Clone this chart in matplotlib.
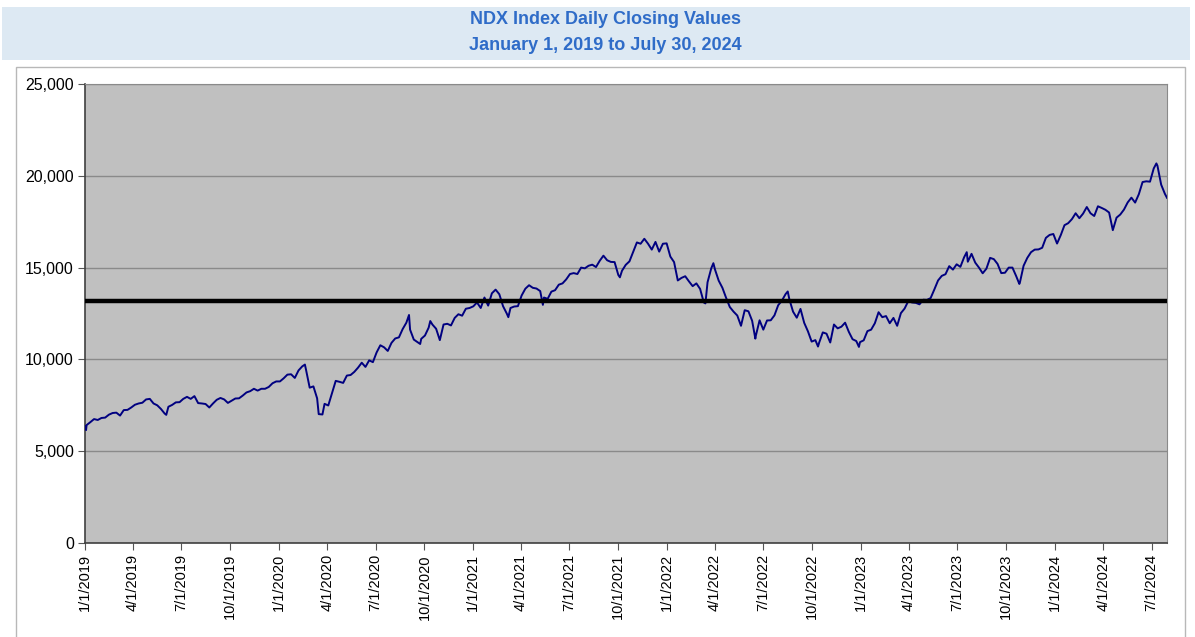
import pandas as pd
import matplotlib
matplotlib.use("Agg")
import matplotlib.pyplot as plt
from matplotlib.patches import Rectangle
from matplotlib.ticker import FuncFormatter

# Weekly (Friday) closes
closes_2019 = [
    6423, 6580, 6750, 6700, 6810, 6830, 6990, 7080, 7100, 6940, 7240, 7250, 7380,
    7530, 7600, 7640, 7820, 7850, 7600, 7500, 7300, 7050, 7420, 7520, 7660, 7670,
    7850, 7960, 7850, 8000, 7620, 7600, 7570, 7380, 7600, 7800, 7900, 7820, 7630,
    7750, 7870, 7880, 8030, 8200, 8270, 8400, 8300, 8400, 8400, 8500, 8700, 8800,
]
closes_2020 = [
    8800, 8970, 9170, 9190, 8990, 9400, 9620, 9450, 8460, 8530, 7880, 7010, 7580,
    7490, 8150, 8830, 8780, 8720, 9120, 9150, 9320, 9550, 9820, 9590, 9950, 9850,
    10380, 10770, 10660, 10460, 10900, 11140, 11200, 11650, 12000, 11620, 11080,
    10940, 11120, 11300, 11730, 11900, 11670, 11050, 11900, 11940, 11850, 12260,
    12460, 12380, 12760, 12800,
]
closes_2021 = [
    12890, 13100, 12800, 13370, 12930, 13600, 13800, 13550, 12900, 12500, 12800,
    12880, 12900, 13480, 13850, 14040, 13900, 13860, 13720, 13370, 13300, 13690,
    13770, 14070, 14140, 14360, 14650, 14700, 14650, 15000, 14960, 15100, 15160,
    15030, 15370, 15650, 15400, 15310, 15300, 14600, 14830, 15150, 15340, 15850,
    16370, 16300, 16570, 16300, 15980, 16400, 15870, 16300, 16320,
]
closes_2022 = [
    15600, 15300, 14300, 14440, 14530, 14250, 13990, 14140, 13840, 13100, 14200,
    14960, 14900, 14290, 13900, 13350, 12850, 12600, 12390, 11830, 12680, 12620,
    12100, 11300, 12130, 11620, 12120, 12130, 12400, 12950, 13200, 13560, 13280,
    12600, 12270, 12750, 11990, 11530, 10970, 11050, 10900, 11470, 11400, 10920,
    11900, 11690, 11780, 12000, 11500, 11100, 11000, 10940,
]
closes_2023 = [
    11040, 11540, 11620, 11970, 12570, 12300, 12360, 11970, 12260, 11830, 12520,
    12770, 13180, 13100, 13080, 13000, 13250, 13240, 13340, 13810, 14300, 14550,
    14640, 15080, 14890, 15180, 15040, 15560, 15320, 15750, 15270, 15000, 14690,
    14940, 15530, 15460, 15200, 14700, 14720, 15000, 15000, 14540, 14180, 15100,
    15530, 15840, 15980, 15990, 16080, 16620, 16780, 16830,
]
closes_2024 = [
    16310, 16770, 17310, 17420, 17640, 17960, 17690, 17940, 18300, 17960, 17810,
    18340, 18250, 18150, 18000, 17040, 17720, 17890, 18160, 18550, 18810, 18540,
    19000, 19660, 19700, 19680, 20400, 20550, 19520, 19020,
]

# Individual days: start, turning points and the last close
key_dates = [
    "2019-01-02", "2019-01-03", "2019-06-03", "2020-02-19", "2020-03-16",
    "2020-03-23", "2020-09-02", "2020-09-23", "2020-10-12", "2021-03-08",
    "2021-05-12", "2021-10-04", "2022-03-14", "2022-03-29", "2022-06-16",
    "2022-08-16", "2022-10-12", "2022-12-28", "2023-07-19", "2023-10-26",
    "2024-07-10", "2024-07-30",
]
key_values = [
    6360, 6150, 6980, 9718, 7020,
    7000, 12420, 10840, 12090, 12300,
    12970, 14470, 13050, 15240, 11130,
    13700, 10700, 10680, 15840, 14110,
    20675, 18800,
]

reference_level = 13180

weekly_dates = pd.date_range("2019-01-04", "2024-07-26", freq="W-FRI")
weekly_values = (closes_2019 + closes_2020 + closes_2021 + closes_2022
                 + closes_2023 + closes_2024)

series = pd.concat([
    pd.Series(weekly_values, index=weekly_dates),
    pd.Series(key_values, index=pd.to_datetime(key_dates)),
]).sort_index()

W, H = 1195, 637
fig = plt.figure(figsize=(W / 100, H / 100), dpi=100)
fig.patch.set_facecolor("white")

# title band
fig.patches.append(Rectangle((2 / W, 1 - 60 / H), 1188 / W, 53 / H,
                             transform=fig.transFigure, facecolor="#dde9f3",
                             edgecolor="none", zorder=0))
# chart frame
fig.patches.append(Rectangle((16 / W, -0.01), 1169 / W, 1 - 67 / H + 0.01,
                             transform=fig.transFigure, facecolor="none",
                             edgecolor="#b8b8b8", linewidth=1, zorder=0))

title_kw = dict(ha="center", va="center", color="#2f6cc8", fontsize=13,
                fontweight="bold", family="Liberation Sans")
fig.text(605 / W, 1 - 20 / H, "NDX Index Daily Closing Values", **title_kw)
fig.text(605 / W, 1 - 45 / H, "January 1, 2019 to July 30, 2024", **title_kw)

ax = fig.add_axes([85 / W, 1 - 543 / H, (1167 - 85) / W, (543 - 84) / H])
ax.set_facecolor("#c0c0c0")

ax.plot(series.index, series.values, color="#000080", linewidth=1.4, zorder=3)
ax.axhline(reference_level, color="black", linewidth=3.2, zorder=4)

ax.set_ylim(0, 25000)
ax.set_yticks(range(0, 25001, 5000))
ax.yaxis.set_major_formatter(FuncFormatter(lambda v, p: f"{int(v):,}"))
ax.grid(axis="y", color="#8a8a8a", linewidth=1)
ax.set_axisbelow(True)

ax.set_xlim(pd.Timestamp("2019-01-01"), pd.Timestamp("2024-07-30"))
quarters = pd.date_range("2019-01-01", "2024-07-01", freq="QS")
ax.set_xticks(quarters)
ax.set_xticklabels([f"{d.month}/{d.day}/{d.year}" for d in quarters],
                   rotation=90, family="Liberation Sans", fontsize=10.5)
for lab in ax.get_yticklabels():
    lab.set_family("Liberation Sans")
    lab.set_fontsize(11.5)

ax.tick_params(axis="both", direction="out", length=5, color="#555555", pad=3)
for side in ["left", "bottom"]:
    ax.spines[side].set_color("#404040")
    ax.spines[side].set_linewidth(1.2)
for side in ["right", "top"]:
    ax.spines[side].set_color("#8a8a8a")

fig.savefig("out.png", dpi=100)
